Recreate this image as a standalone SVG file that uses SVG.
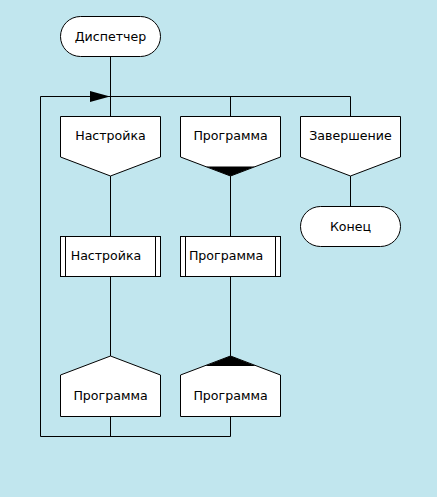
<svg xmlns="http://www.w3.org/2000/svg" width="437" height="497" viewBox="0 0 437 497">
<style>
.s{fill:#fff;stroke:#000;stroke-width:1}
.l{fill:none;stroke:#000;stroke-width:1}
.t{font-family:"DejaVu Sans",Verdana,sans-serif;font-size:12.6px;fill:#000;text-anchor:middle}
</style>
<rect width="437" height="497" fill="#C1E6EE"/>
<g id="connectors">
<path class="l" d="M110.5,56 V116 M40.5,96.5 H350.5 M40.5,96.5 V436.5 H230.5 M230.5,96.5 V116 M350.5,96.5 V116 M350.5,176 V206 M110.5,176 V236 M110.5,276 V356 M230.5,176 V236 M230.5,276 V356 M110.5,416 V436.5 M230.5,416 V436.5"/>
<polygon points="90,91 110,96.5 90,102" fill="#000"/>
</g>
<g id="n1"><rect class="s" x="60.5" y="16.5" width="100" height="40" rx="20"/><text class="t" x="110.5" y="41">Диспетчер</text></g>
<g id="n2"><polygon class="s" points="60.5,116.5 160.5,116.5 160.5,157 110.5,176 60.5,157"/><text class="t" x="110.5" y="140">Настройка</text></g>
<g id="n3"><polygon class="s" points="180.5,116.5 280.5,116.5 280.5,157 230.5,176 180.5,157"/><polygon points="206,166.5 255,166.5 230.5,176" fill="#000"/><text class="t" x="230.5" y="140">Программа</text></g>
<g id="n4"><polygon class="s" points="300.5,116.5 400.5,116.5 400.5,157 350.5,176 300.5,157"/><text class="t" x="350.5" y="140">Завершение</text></g>
<g id="n5"><rect class="s" x="300.5" y="206.5" width="100" height="40" rx="20"/><text class="t" x="350.5" y="231">Конец</text></g>
<g id="n6"><rect class="s" x="60.5" y="236.5" width="100" height="40"/><path class="l" d="M65.5,236.5 V276.5 M155.5,236.5 V276.5"/><text class="t" x="106" y="260">Настройка</text></g>
<g id="n7"><rect class="s" x="180.5" y="236.5" width="100" height="40"/><path class="l" d="M185.5,236.5 V276.5 M275.5,236.5 V276.5"/><text class="t" x="226" y="260">Программа</text></g>
<g id="n8"><polygon class="s" points="110.5,356 160.5,375 160.5,416.5 60.5,416.5 60.5,375"/><text class="t" x="110.5" y="400">Программа</text></g>
<g id="n9"><polygon class="s" points="230.5,356 280.5,375 280.5,416.5 180.5,416.5 180.5,375"/><polygon points="230.5,356 256,366 205,366" fill="#000"/><text class="t" x="230.5" y="400">Программа</text></g>
</svg>
